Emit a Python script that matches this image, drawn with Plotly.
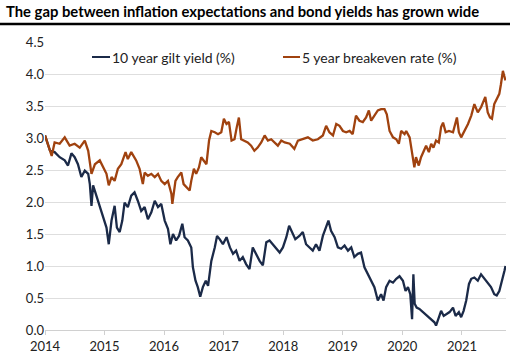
import plotly.graph_objects as go

gilt_dates = [
    "2014-01-01", "2014-02-01", "2014-03-01", "2014-04-01", "2014-05-02", "2014-05-22",
    "2014-06-12", "2014-07-02", "2014-07-22", "2014-08-12", "2014-09-02", "2014-09-23",
    "2014-10-03", "2014-10-13", "2014-10-23", "2014-11-13", "2014-12-03", "2014-12-23",
    "2015-01-13", "2015-01-27", "2015-02-13", "2015-03-04", "2015-03-18", "2015-04-04",
    "2015-04-20", "2015-05-04", "2015-05-24", "2015-06-14", "2015-07-04", "2015-07-24",
    "2015-08-14", "2015-09-04", "2015-09-24", "2015-10-15", "2015-11-05", "2015-11-25",
    "2015-12-15", "2016-01-05", "2016-01-25", "2016-02-09", "2016-02-25", "2016-03-15",
    "2016-04-02", "2016-04-22", "2016-05-06", "2016-05-26", "2016-06-16", "2016-06-26",
    "2016-07-12", "2016-07-26", "2016-08-10", "2016-08-26", "2016-09-13", "2016-09-27",
    "2016-10-17", "2016-11-07", "2016-11-21", "2016-12-07", "2016-12-27", "2017-01-18",
    "2017-02-08", "2017-02-27", "2017-03-18", "2017-04-08", "2017-04-28", "2017-05-18",
    "2017-06-08", "2017-06-28", "2017-07-18", "2017-08-09", "2017-08-29", "2017-09-19",
    "2017-10-09", "2017-10-29", "2017-11-19", "2017-12-10", "2017-12-30", "2018-01-20",
    "2018-02-06", "2018-02-26", "2018-03-16", "2018-04-10", "2018-05-01", "2018-05-21",
    "2018-06-11", "2018-07-01", "2018-07-21", "2018-08-11", "2018-09-01", "2018-09-21",
    "2018-10-05", "2018-10-21", "2018-11-12", "2018-12-02", "2018-12-22", "2019-01-12",
    "2019-02-02", "2019-02-22", "2019-03-13", "2019-04-03", "2019-04-23", "2019-05-14",
    "2019-06-04", "2019-06-24", "2019-07-14", "2019-08-04", "2019-08-24", "2019-09-08",
    "2019-09-24", "2019-10-15", "2019-11-05", "2019-11-25", "2019-12-15", "2020-01-05",
    "2020-01-21", "2020-02-05", "2020-02-19", "2020-03-01", "2020-03-09", "2020-03-17",
    "2020-03-29", "2020-04-15", "2020-05-06", "2020-05-22", "2020-06-08", "2020-06-26",
    "2020-07-16", "2020-07-26", "2020-08-12", "2020-08-26", "2020-09-11", "2020-09-27",
    "2020-10-17", "2020-11-07", "2020-11-23", "2020-12-13", "2020-12-27", "2021-01-11",
    "2021-01-27", "2021-02-13", "2021-02-27", "2021-03-18", "2021-04-08", "2021-04-28",
    "2021-05-18", "2021-06-08", "2021-06-28", "2021-07-18", "2021-08-02", "2021-08-18",
    "2021-09-05", "2021-09-19", "2021-09-25",
]
gilt_yield = [
    3.04, 2.80, 2.78, 2.70, 2.65, 2.57,
    2.76, 2.70, 2.59, 2.39, 2.49, 2.44,
    2.28, 1.94, 2.26, 2.10, 1.92, 1.76,
    1.60, 1.34, 1.71, 1.94, 1.60, 1.53,
    1.71, 1.99, 1.92, 2.10, 2.15, 2.02,
    1.86, 1.92, 1.73, 1.84, 2.02, 1.92,
    1.97, 1.71, 1.58, 1.34, 1.50, 1.40,
    1.47, 1.66, 1.45, 1.40, 1.29, 0.98,
    0.77, 0.67, 0.52, 0.67, 0.77, 0.69,
    1.08, 1.29, 1.47, 1.42, 1.34, 1.45,
    1.29, 1.19, 1.24, 1.08, 1.14, 1.03,
    0.95, 1.29, 1.19, 1.08, 1.01, 1.37,
    1.40, 1.34, 1.29, 1.21, 1.29, 1.45,
    1.63, 1.53, 1.42, 1.47, 1.53, 1.34,
    1.29, 1.24, 1.34, 1.24, 1.47, 1.60,
    1.71, 1.55, 1.45, 1.29, 1.27, 1.32,
    1.24, 1.29, 1.14, 1.19, 1.21, 0.98,
    0.88, 0.77, 0.67, 0.46, 0.56, 0.46,
    0.67, 0.77, 0.74, 0.80, 0.84, 0.77,
    0.61, 0.67, 0.56, 0.17, 0.87, 0.41,
    0.35, 0.33, 0.28, 0.25, 0.20, 0.17,
    0.12, 0.07, 0.20, 0.30, 0.22, 0.25,
    0.28, 0.35, 0.22, 0.28, 0.20, 0.30,
    0.46, 0.72, 0.80, 0.82, 0.77, 0.87,
    0.80, 0.74, 0.67, 0.56, 0.54, 0.61,
    0.77, 0.93, 1.00,
]

be_dates = [
    "2014-01-01", "2014-01-21", "2014-02-11", "2014-03-01", "2014-04-01", "2014-05-02",
    "2014-06-01", "2014-07-02", "2014-08-02", "2014-09-02", "2014-09-23", "2014-10-13",
    "2014-11-03", "2014-12-03", "2014-12-23", "2015-01-13", "2015-01-27", "2015-02-13",
    "2015-03-04", "2015-03-24", "2015-04-14", "2015-05-10", "2015-05-24", "2015-06-14",
    "2015-07-14", "2015-08-04", "2015-08-24", "2015-09-04", "2015-09-24", "2015-10-15",
    "2015-11-05", "2015-11-25", "2015-12-15", "2016-01-05", "2016-01-25", "2016-02-15",
    "2016-02-21", "2016-03-11", "2016-03-25", "2016-04-16", "2016-04-30", "2016-05-16",
    "2016-06-06", "2016-06-16", "2016-07-02", "2016-07-16", "2016-08-02", "2016-08-16",
    "2016-09-01", "2016-09-17", "2016-10-03", "2016-10-17", "2016-11-07", "2016-11-27",
    "2016-12-17", "2017-01-02", "2017-01-18", "2017-02-02", "2017-02-18", "2017-03-08",
    "2017-03-22", "2017-04-04", "2017-04-18", "2017-05-08", "2017-05-28", "2017-06-18",
    "2017-07-08", "2017-07-28", "2017-08-19", "2017-09-09", "2017-09-29", "2017-10-19",
    "2017-11-09", "2017-11-29", "2017-12-20", "2018-01-10", "2018-02-10", "2018-03-10",
    "2018-04-01", "2018-05-01", "2018-06-01", "2018-07-01", "2018-08-01", "2018-09-01",
    "2018-09-21", "2018-10-11", "2018-11-02", "2018-11-22", "2018-12-12", "2019-01-02",
    "2019-01-22", "2019-02-12", "2019-03-03", "2019-03-23", "2019-04-13", "2019-05-04",
    "2019-05-24", "2019-06-10", "2019-06-24", "2019-07-14", "2019-08-04", "2019-08-24",
    "2019-09-14", "2019-09-28", "2019-10-15", "2019-11-05", "2019-11-25", "2019-12-11",
    "2019-12-25", "2020-01-15", "2020-01-25", "2020-02-15", "2020-03-01", "2020-03-15",
    "2020-03-25", "2020-04-11", "2020-04-25", "2020-05-10", "2020-05-26", "2020-06-12",
    "2020-06-26", "2020-07-10", "2020-07-26", "2020-08-12", "2020-08-26", "2020-09-07",
    "2020-09-23", "2020-10-13", "2020-11-07", "2020-12-01", "2020-12-13", "2020-12-27",
    "2021-01-17", "2021-02-07", "2021-02-27", "2021-03-18", "2021-04-08", "2021-04-28",
    "2021-05-24", "2021-06-08", "2021-06-22", "2021-07-04", "2021-07-18", "2021-08-02",
    "2021-08-18", "2021-08-28", "2021-09-09", "2021-09-19", "2021-09-25",
]
breakeven = [
    3.04, 2.88, 2.72, 2.93, 2.91, 3.01,
    2.88, 2.91, 2.85, 2.96, 2.80, 2.44,
    2.59, 2.65, 2.54, 2.44, 2.26, 2.39,
    2.33, 2.52, 2.59, 2.78, 2.67, 2.78,
    2.65, 2.52, 2.28, 2.46, 2.41, 2.44,
    2.39, 2.44, 2.33, 2.28, 2.33, 2.13,
    1.97, 2.33, 2.39, 2.46, 2.28, 2.23,
    2.18, 2.33, 2.52, 2.44, 2.54, 2.70,
    2.65, 2.59, 2.96, 3.11, 3.09, 3.06,
    3.09, 3.30, 3.22, 3.25, 2.96, 2.98,
    3.17, 3.32, 2.98, 2.96, 2.93, 2.88,
    2.80, 2.85, 2.93, 3.04, 2.96, 2.98,
    2.93, 2.88, 2.96, 2.93, 2.91, 2.83,
    2.96, 2.98, 3.01, 2.96, 2.98, 3.04,
    3.19, 3.09, 3.04, 3.22, 3.19, 3.11,
    3.09, 3.11, 3.06, 3.35, 3.27, 3.25,
    3.32, 3.43, 3.27, 3.35, 3.43, 3.45,
    3.45, 3.37, 3.11, 3.01, 2.98, 2.91,
    3.11, 3.06, 3.11, 3.01, 2.80, 2.54,
    2.70, 2.57, 2.70, 2.80, 2.88, 2.78,
    2.91, 2.85, 2.96, 2.93, 3.17, 3.24,
    3.09, 3.11, 3.09, 3.32, 3.09, 3.01,
    3.11, 3.22, 3.35, 3.53, 3.40, 3.48,
    3.64, 3.40, 3.32, 3.30, 3.53, 3.61,
    3.69, 3.84, 4.05, 3.95, 3.90,
]

year_ticks = ["2014-01-01", "2015-01-01", "2016-01-01", "2017-01-01",
              "2018-01-01", "2019-01-01", "2020-01-01", "2021-01-01"]
year_labels = ["2014", "2015", "2016", "2017", "2018", "2019", "2020", "2021"]
y_ticks = [0.0, 0.5, 1.0, 1.5, 2.0, 2.5, 3.0, 3.5, 4.0, 4.5]
y_labels = ["0.0", "0.5", "1.0", "1.5", "2.0", "2.5", "3.0", "3.5", "4.0", "4.5"]

title_text = "The gap between inflation expectations and bond yields has grown wide"
series_names = ["10 year gilt yield (%)", "5 year breakeven rate (%)"]
colors = ["#1b2a48", "#a0420f"]

FONT = "Lato"

fig = go.Figure()
fig.add_trace(go.Scatter(x=gilt_dates, y=gilt_yield, mode="lines", name=series_names[0],
                         line=dict(color=colors[0], width=2.3), showlegend=False))
fig.add_trace(go.Scatter(x=be_dates, y=breakeven, mode="lines", name=series_names[1],
                         line=dict(color=colors[1], width=2.3), showlegend=False))

W, H = 510, 357
ml, mr, mt, mb = 45, 4, 42, 27

fig.update_layout(
    width=W, height=H,
    margin=dict(l=ml, r=mr, t=mt, b=mb),
    paper_bgcolor="white", plot_bgcolor="white",
    font=dict(family=FONT, size=13, color="#222222"),
)
fig.update_xaxes(
    type="date", range=["2014-01-01", "2021-09-28"],
    tickvals=year_ticks, ticktext=year_labels,
    showgrid=False, showline=True, linecolor="#d0d0d0", linewidth=1,
    ticks="outside", ticklen=4, tickcolor="#d0d0d0",
    tickfont=dict(family=FONT, size=13, color="#222222"),
    zeroline=False,
)
fig.update_yaxes(
    range=[0, 4.5], tickvals=y_ticks, ticktext=y_labels,
    showgrid=True, gridcolor="#dedede", gridwidth=1,
    zeroline=False, showline=False, ticks="",
    tickfont=dict(family=FONT, size=13, color="#222222"),
)

pw = W - ml - mr
ph = H - mt - mb

# title and rule
fig.add_annotation(text="<b>" + title_text + "</b>", xref="paper", yref="paper",
                   x=(4 - ml) / pw, y=1 + (mt - 11) / ph,
                   xanchor="left", yanchor="middle", showarrow=False,
                   font=dict(family=FONT, size=14.8, color="#000000"))
fig.add_shape(type="line", xref="paper", yref="paper",
              x0=-ml / pw, x1=1 + mr / pw,
              y0=1 + (mt - 24) / ph, y1=1 + (mt - 24) / ph,
              line=dict(color="#000000", width=2.5))

# legend (line + label)
leg_y = 1 - (57 - mt) / ph
for (x0, x1), name, col in zip([(92, 110), (283, 300)], series_names, colors):
    fig.add_shape(type="line", xref="paper", yref="paper",
                  x0=(x0 - ml) / pw, x1=(x1 - ml) / pw, y0=leg_y, y1=leg_y,
                  line=dict(color=col, width=2))
    fig.add_annotation(text=name, xref="paper", yref="paper",
                       x=(x1 - ml) / pw, y=leg_y, xanchor="left", yanchor="middle",
                       showarrow=False, font=dict(family=FONT, size=14, color="#222222"))

fig.write_html("out.html", config={"displayModeBar": False},
               post_script="document.body.style.margin='0';")
